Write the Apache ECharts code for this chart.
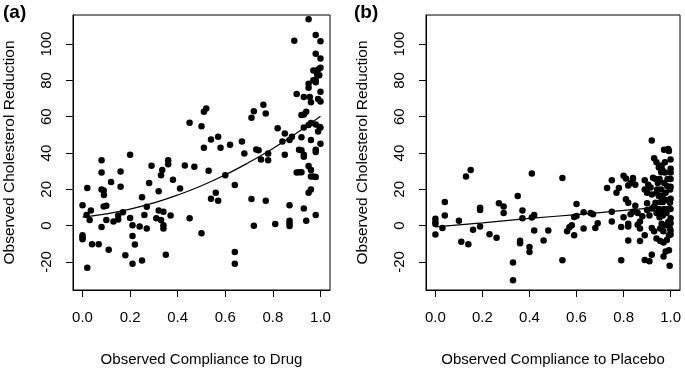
<!DOCTYPE html>
<html>
<head>
<meta charset="utf-8">
<script src="https://cdn.jsdelivr.net/npm/echarts@6/dist/echarts.min.js"></script>
<style>
  html, body { margin: 0; padding: 0; background: #fff; }
  #main { width: 685px; height: 372px; }
</style>
</head>
<body>
<div id="main"></div>
<script>
// panel (a): compliance to drug vs cholesterol reduction
const drugX = [0.0, 0.0, 0.0, 0.0, 0.02, 0.02, 0.017, 0.03, 0.035, 0.04, 0.068, 0.08, 0.08, 0.08, 0.089, 0.09,
  0.089, 0.1, 0.08, 0.1, 0.11, 0.12, 0.13, 0.15, 0.15, 0.16, 0.16, 0.17, 0.18, 0.2, 0.2, 0.21, 0.21, 0.21,
  0.22, 0.24, 0.25, 0.25, 0.26, 0.27, 0.27, 0.28, 0.29, 0.31, 0.32, 0.32, 0.33, 0.335, 0.33, 0.34, 0.34,
  0.34, 0.35, 0.36, 0.36, 0.37, 0.38, 0.41, 0.43, 0.45, 0.45, 0.47, 0.5, 0.5, 0.51, 0.51, 0.52, 0.53, 0.54,
  0.54, 0.56, 0.57, 0.57, 0.58, 0.6, 0.62, 0.64, 0.64, 0.64, 0.67, 0.68, 0.71, 0.71, 0.72, 0.72, 0.73, 0.74,
  0.75, 0.76, 0.77, 0.77, 0.78, 0.78, 0.81, 0.82, 0.84, 0.85, 0.85, 0.87, 0.87, 0.87, 0.87, 0.87, 0.88,
  0.89, 0.9, 0.9, 0.91, 0.91, 0.92, 0.92, 0.92, 0.92, 0.93, 0.93, 0.93, 0.93, 0.93, 0.93, 0.94, 0.94, 0.95,
  0.95, 0.95, 0.95, 0.95, 0.95, 0.955, 0.96, 0.96, 0.96, 0.96, 0.96, 0.96, 0.97, 0.97, 0.97, 0.98, 0.98,
  0.98, 0.98, 0.98, 0.98, 0.98, 0.98, 0.986, 0.99, 0.99, 0.99, 0.995, 0.997, 1.0, 1.0, 1.0, 1.0, 1.0, 1.0,
  1.0, 0.98];
const drugY = [11.3, -5.2, -6.5, -7.5, 20.8, -23.2, 5.9, 3.2, 8.3, -10.2, -10.2, 36.1, 29.3, 19.9, 19.4, 16.9,
  10.6, 11, -0.7, 3.2, -13.3, 24.1, 2.3, 3.4, 5.6, 29.8, 21.4, 7.4, -16.3, 39, 4.3, 0.2, -5.7, -21,
  -10.4, -0.4, 15.6, -19.2, 5.9, 10.4, -1.6, 23.5, 33, 4.1, 18.9, 8.3, 27.8, 30.7, 3.1, 0.2, -1.6,
  7.7, -16, 36.1, 33.8, 5.6, 25.3, 20.5, 33.2, 56.7, 4.1, 32.5, 54.8, -4.1, 42.9, 62.7, 64.5, 30.3, 47.4,
  14.9, 18.1, 49, 13.8, 42.9, 27.8, 44.5, 22.4, -14.5, -21, 46.3, 39.7, 59.4, 14.7, 63, 0, 42, 41.5,
  36.4, 66.6, 61.8, 13.8, 39.7, 36.1, 0.9, 53.7, 46.3, 50.8, 39.1, 11.3, 2.7, 1.3, -0.2, 47.2, 49,
  101.8, 72.5, 29.3, 41.8, 29.4, 60.9, 48.7, 41.5, 29.4, 9.5, 70.9, 54, 39.1, 37.9, 61.2, 2.7, 62.7, 55.5,
  113.6, 78.1, 75.9, 18.1, 32.9, 70.9, 19.9, 30.7, 47.2, 68, 27.1, 56.6, 80.1, 85.5, 27.1, 105, 94.6,
  80.2, 55.7, 41.8, 40.6, 5.9, 26.8, 83.1, 69.8, 51.9, 86, 82.8, 54.4, 101.6, 92.1, 86.9, 73.8, 68.4,
  45.1, 54, 79];
const drugFitX = [0, 0.1, 0.2, 0.3, 0.4, 0.5, 0.6, 0.7, 0.8, 0.9, 1.0];
const drugFitY = [4.7, 6.5, 9.1, 12.6, 16.9, 22.0, 28.0, 34.9, 42.5, 51.0, 60.3];

// panel (b): compliance to placebo vs cholesterol reduction
const placeboX = [0, 0, 0, 0, 0.03, 0.04, 0.04, 0.1, 0.11, 0.13, 0.14, 0.15, 0.16, 0.19, 0.19, 0.19, 0.23,
  0.26, 0.27, 0.29, 0.29, 0.33, 0.33, 0.35, 0.36, 0.36, 0.37, 0.37, 0.4, 0.4, 0.41, 0.41, 0.42, 0.42,
  0.46, 0.48, 0.54, 0.54, 0.56, 0.57, 0.58, 0.59, 0.59, 0.6, 0.6, 0.63, 0.63, 0.66, 0.67, 0.68, 0.69,
  0.73, 0.75, 0.75, 0.75, 0.77, 0.78, 0.79, 0.79, 0.8, 0.8, 0.81, 0.81, 0.82, 0.82, 0.82, 0.82, 0.82,
  0.83, 0.83, 0.84, 0.84, 0.84, 0.85, 0.85, 0.86, 0.86, 0.87, 0.87, 0.87, 0.88, 0.89, 0.89, 0.89, 0.89,
  0.9, 0.9, 0.9, 0.905, 0.91, 0.91, 0.915, 0.92, 0.92, 0.92, 0.92, 0.92, 0.925, 0.93, 0.93, 0.93, 0.936,
  0.936, 0.94, 0.94, 0.94, 0.943, 0.946, 0.948, 0.95, 0.95, 0.953, 0.953, 0.956, 0.956, 0.958, 0.96,
  0.96, 0.962, 0.962, 0.965, 0.965, 0.967, 0.967, 0.969, 0.97, 0.97, 0.972, 0.973, 0.975, 0.976, 0.976,
  0.979, 0.979, 0.98, 0.983, 0.984, 0.986, 0.987, 0.99, 0.99, 0.993, 0.993, 0.993, 0.996, 0.997, 0.997,
  0.998, 1.0, 1.0, 1.0, 1.0, 1.0, 1.0, 1.0, 1.0, 1.0, 1.0, 1.0, 0.976, 0.962, 0.95, 0.94];
const placeboY = [3.8, 2.0, 0.9, -4.8, -1.3, 13.1, 5.6, 2.7, -8.8, 27.1, -10.2, 30.7, -2.2, 9.9, 8.6, -0.5, -4.7,
  -6.6, 12.4, 10.6, 7.0, -20.3, -30, 16.3, -8.3, -9.7, 8.4, 4.1, -11.7, -14.5, 28.7, 4.5, 5.9, -2.7,
  -8.1, -2.7, 26.2, -19, -3.1, -0.9, 0.2, -5.2, 4.8, 12, 5.4, -1.6, 7.4, 7, 6.3, -1.3, 1.3,
  20.8, 25, 7.7, 2.3, 18.1, 20.8, -19, -0.7, 4.7, 27.5, 26, 14.5, 22.1, 1.1, -8.1, 12.7, -0.5,
  6.3, 23.5, 25.7, 26.2, 7.7, 22.6, 11, 7, 0.5, -1.6, 2.3, -8.4, 5.2, 19.9, 25, -5.2, -18.9,
  18.1, 12.4, 8.6, 22.6, 5.6, -19.6, 21, 46.9, 17.2, 9.5, -1.3, -16, 26.4, 10.6, -3.1, 37.2, 25.7,
  12.7, 35, 7, -7, 19.9, 23.5, 25.3, 16.3, 9.2, 4.7, 25.7, -1.6, -8.4, 13.1, 29.4,
  19.9, 7.4, 1.1, 30.7, 16.3, 13.1, 5.6, -3.1, -9.2, -16.9, 41.8, 23.5, 9.2, 29.3, 0.2,
  18.1, -14.2, 14.2, 7, -7.9, 21.7, 25.7, 42.2, 2, 41.1, -5.2, -13.5, -22.1, 12.7, -1.6,
  19.9, 29.3, 9.2, 36.4, 31.4, 25.7, 21.4, 14.9, 1.3, -2.7, -4.8, 4.1, 35, 33.2, 32.1, 18.1];
const placeboFitX = [0, 0.2, 0.4, 0.6, 0.8, 1.0];
const placeboFitY = [-0.7, 1.6, 4.0, 6.1, 8.4, 10.6];

const xTicks = [0, 0.2, 0.4, 0.6, 0.8, 1.0];
const yTicks = [-20, 0, 20, 40, 60, 80, 100];

const font = '"Liberation Sans", Arial, Helvetica, sans-serif';
const pairs = (xs, ys) => xs.map((x, i) => [x, ys[i]]);

const makeXAxis = (gridIndex, name) => ({
  type: 'value',
  gridIndex: gridIndex,
  min: -0.04,
  max: 1.04,
  name: name,
  nameLocation: 'middle',
  nameGap: 62,
  nameTextStyle: {fontSize: 15, color: '#000', fontFamily: font},
  axisLine: {show: true, onZero: false, lineStyle: {color: '#000', width: 1}},
  axisTick: {show: true, length: 7, customValues: xTicks, lineStyle: {color: '#000'}},
  axisLabel: {
    customValues: xTicks,
    margin: 20,
    fontSize: 15,
    color: '#000',
    fontFamily: font,
    formatter: function (v) {
      return v.toFixed(1);
    },
  },
  splitLine: {show: false},
});

const makeYAxis = (gridIndex) => ({
  type: 'value',
  gridIndex: gridIndex,
  min: -35.4,
  max: 116,
  name: 'Observed Cholesterol Reduction',
  nameLocation: 'middle',
  nameGap: 55,
  nameTextStyle: {fontSize: 15.5, color: '#000', fontFamily: font},
  axisLine: {show: true, onZero: false, lineStyle: {color: '#000', width: 1}},
  axisTick: {show: true, length: 7, customValues: yTicks, lineStyle: {color: '#000'}},
  axisLabel: {
    customValues: yTicks,
    rotate: 90,
    margin: 19,
    fontSize: 15,
    color: '#000',
    fontFamily: font,
  },
  splitLine: {show: false},
});

const makeScatter = (idx, xs, ys) => ({
  type: 'scatter',
  xAxisIndex: idx,
  yAxisIndex: idx,
  data: pairs(xs, ys),
  symbol: 'circle',
  symbolSize: 6.5,
  itemStyle: {color: '#000', opacity: 1},
  silent: true,
});

const makeFit = (idx, xs, ys) => ({
  type: 'line',
  xAxisIndex: idx,
  yAxisIndex: idx,
  data: pairs(xs, ys),
  smooth: true,
  symbol: 'none',
  lineStyle: {color: '#000', width: 1.2},
  silent: true,
});

const chart = echarts.init(document.getElementById('main'));
const option = {
  animation: false,
  backgroundColor: '#fff',
  title: [
    {text: '(a)', left: -2, top: -2, textStyle: {fontSize: 19, fontWeight: 'bold', color: '#000', fontFamily: font}},
    {text: '(b)', left: 349, top: -2, textStyle: {fontSize: 19, fontWeight: 'bold', color: '#000', fontFamily: font}},
  ],
  grid: [
    {left: 73, top: 15, width: 257, height: 281, show: true, borderColor: '#000', borderWidth: 1, backgroundColor: '#fff'},
    {left: 426, top: 15, width: 254, height: 281, show: true, borderColor: '#000', borderWidth: 1, backgroundColor: '#fff'},
  ],
  xAxis: [
    makeXAxis(0, 'Observed Compliance to Drug'),
    makeXAxis(1, 'Observed Compliance to Placebo'),
  ],
  yAxis: [makeYAxis(0), makeYAxis(1)],
  series: [
    makeScatter(0, drugX, drugY),
    makeFit(0, drugFitX, drugFitY),
    makeScatter(1, placeboX, placeboY),
    makeFit(1, placeboFitX, placeboFitY),
  ],
};
chart.setOption(option);
</script>
</body>
</html>
